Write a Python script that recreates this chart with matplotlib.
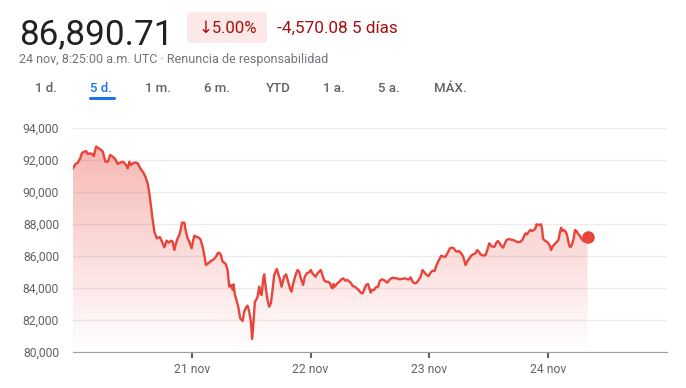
import matplotlib.pyplot as plt
from matplotlib.patches import FancyBboxPatch, Polygon
import numpy as np

# hours since 20 nov 00:00 UTC
hours = [0.0, 0.50, 0.97, 1.45, 1.85, 2.32, 2.66, 2.99, 3.46, 3.87, 4.20, 4.67, 5.21, 5.68,
         6.02, 6.55, 7.03, 7.50, 8.03, 8.57, 9.04, 9.51, 10.05, 10.59, 11.06, 11.40, 11.73,
         12.07, 12.40, 12.74, 13.08, 13.41, 13.75, 14.22, 14.62, 15.09, 15.43, 15.77, 16.10,
         16.44, 16.91, 17.31, 17.58, 17.98, 18.45, 18.93, 19.33, 19.80, 20.13, 20.47, 20.81,
         21.14, 21.48, 21.82, 22.02, 22.49, 22.82, 23.16, 23.50, 23.97, 24.30, 24.51,
         24.84, 25.31, 25.72, 26.19, 26.52, 26.86, 27.33, 27.87, 28.41, 28.88, 29.21, 29.55,
         29.89, 30.22, 30.56, 30.89, 31.23, 31.57, 31.90, 32.24, 32.44, 32.71, 33.11, 33.45,
         33.78, 34.25, 34.59, 34.93, 35.26, 35.60, 35.94, 36.20, 36.47, 36.74, 37.01, 37.28,
         37.62, 37.82, 38.09, 38.49, 38.63, 38.96, 39.30, 39.63, 39.97, 40.31, 40.64, 40.98,
         41.18, 41.45, 41.85, 42.12, 42.39, 42.66, 43.06, 43.47, 43.87, 44.14, 44.41, 44.68,
         45.08, 45.35, 45.68, 46.02, 46.49, 46.83, 47.23, 47.70,
         48.03, 48.37, 48.71, 49.04, 49.38, 49.72, 50.05, 50.39, 50.72, 51.06, 51.53, 51.93,
         52.20, 52.47, 52.61, 52.87, 53.14, 53.41, 53.82, 54.22, 54.62, 55.03, 55.43, 55.83,
         56.10, 56.51, 56.91, 57.31, 57.72, 58.12, 58.52, 58.79, 59.19, 59.60, 59.87, 60.14,
         60.40, 60.81, 61.21, 61.61, 62.02, 62.42, 62.83, 63.23, 63.50, 63.90, 64.30, 64.71,
         65.11, 65.51, 65.92, 66.32, 66.72, 67.13, 67.53, 67.93, 68.20, 68.61, 69.01, 69.41,
         69.82, 70.22, 70.62, 71.03, 71.43, 71.83, 72.24, 72.64,
         73.05, 73.45, 73.93, 74.40, 74.80, 75.27, 75.74, 76.14, 76.61, 76.95, 77.29, 77.62,
         77.96, 78.43, 78.83, 79.30, 79.64, 79.98, 80.45, 80.85, 81.32, 81.66, 81.99, 82.33,
         82.87, 83.34, 83.81, 84.08, 84.35, 84.68, 85.15, 85.56, 85.82, 86.23, 86.50, 86.90,
         87.17, 87.57, 88.04, 88.51, 88.92, 89.39, 89.86, 90.40, 90.80, 91.07, 91.41, 91.74,
         92.08, 92.41, 92.75, 93.09, 93.42, 93.62, 94.09, 94.56, 94.77, 94.97, 95.44, 95.91,
         96.31, 96.58, 96.85, 97.25, 97.66, 98.06, 98.33, 98.60, 98.87, 99.14, 99.54, 99.81,
         100.15, 100.35, 100.61, 100.88, 101.15, 101.42, 101.69, 101.96, 102.36, 102.77,
         103.17, 103.44, 103.71, 103.95]
prices = [91480, 91750, 91830, 92105, 92460, 92520, 92560, 92375, 92420, 92375, 92250, 92835,
          92730, 92625, 92520, 91895, 91895, 92310, 92210, 92040, 91750, 91835, 91895, 91750,
          91480, 91895, 91690, 91790, 91835, 91835, 91790, 91585, 91415, 91210, 90960, 90540,
          89920, 89085, 88250, 87520, 87105, 87170, 87170, 86900, 86540, 86960, 86835, 86960,
          86900, 86375, 86790, 87105, 87310, 87730, 88085, 88085, 87520, 87105, 86900, 86480,
          87000, 87270,
          87208, 87167, 87063, 86584, 86063, 85438, 85542, 85688, 85792, 85958, 86167, 86208,
          86063, 85646, 85583, 85479, 85125, 84083, 84188, 83875, 84230, 83563, 83146, 82730,
          82105, 81938, 82521, 82771, 82896, 82521, 81896, 80813, 81896, 83146, 83250, 83458,
          84083, 83667, 83563, 84708, 84854, 83979, 83250, 82833, 83042, 83875, 84813, 85063,
          85188, 84917, 84500, 84083, 84396, 84708, 84854, 84396, 83938, 83771, 84188, 84500,
          84917, 85125, 85021, 84604, 84188, 84708, 84917, 84979,
          85125, 84917, 84813, 84708, 84917, 85021, 85125, 84813, 84500, 84396, 84396, 84292,
          84042, 83979, 84250, 84083, 84188, 84292, 84396, 84542, 84604, 84458, 84500, 84396,
          84333, 84125, 84083, 83979, 83875, 83708, 83667, 83875, 84188, 84250, 83979, 83708,
          83875, 83875, 84042, 84083, 84458, 84542, 84500, 84396, 84333, 84500, 84604, 84646,
          84604, 84604, 84542, 84563, 84583, 84604, 84542, 84542, 84667, 84396, 84292, 84333,
          84500, 84708, 85125, 84958, 84813, 84750, 84958, 85083,
          85063, 85438, 85750, 86021, 85958, 85958, 86229, 86479, 86521, 86479, 86313, 86271,
          86313, 86167, 85958, 85438, 85646, 85813, 86021, 86104, 86167, 86375, 86271, 86104,
          86021, 86063, 86479, 86792, 86688, 86583, 86583, 86854, 86938, 86792, 86646, 86521,
          86729, 87000, 87063, 87021, 87000, 86938, 86854, 86896, 87021, 87208, 87417, 87354,
          87521, 87625, 87563, 87625, 87729, 87979, 87938, 87979, 87688, 87063, 86938, 86854,
          86646, 86375, 86583, 86729, 86854, 87000, 87417, 87771, 87563, 87625, 87521, 87313,
          86792, 86583, 86583, 86792, 87104, 87625, 87563, 87417, 87271, 87063, 86938, 86896,
          86938, 87200]

y_ticks = [80000, 82000, 84000, 86000, 88000, 90000, 92000, 94000]
x_ticks = [24, 48, 72, 96]
x_labels = ['21 nov', '22 nov', '23 nov', '24 nov']
tabs = ['1 d.', '5 d.', '1 m.', '6 m.', 'YTD', '1 a.', '5 a.', 'MÁX.']

W, H = 686, 388
RED = '#e9443a'
FONT = ['Roboto', 'DejaVu Sans']


def fx(px):
    return px / W


def fy(py):
    return 1 - py / H


def main():
    fig = plt.figure(figsize=(W / 100, H / 100), dpi=100)
    ax = fig.add_axes([fx(73), 36 / H, 594 / W, 224 / H])

    # header
    fig.text(fx(19), fy(44), '86,890.71', fontsize=25.3, color='#202124',
             family=FONT, va='baseline')
    badge = FancyBboxPatch((fx(187), fy(43)), fx(80), 31 / H,
                           boxstyle='round,pad=0,rounding_size=0.008',
                           transform=fig.transFigure, fc='#fce8e6', ec='none')
    fig.patches.append(badge)
    fig.text(fx(228), fy(28), '↓5.00%', fontsize=12, color='#a50e0e',
             family=FONT, ha='center', va='center')
    fig.text(fx(277), fy(28), '-4,570.08 5 días', fontsize=12.3, color='#a50e0e',
             family=FONT, va='center')
    fig.text(fx(19), fy(60), '24 nov, 8:25:00 a.m. UTC · Renuncia de responsabilidad',
             fontsize=9.0, color='#70757a', family=FONT, va='center')

    tab_x = [46, 101, 158, 217, 278, 334, 389, 450]
    for label, x in zip(tabs, tab_x):
        color = '#1a73e8' if label == '5 d.' else '#5f6368'
        fig.text(fx(x), fy(88), label, fontsize=9.5, color=color, family=FONT,
                 ha='center', va='center', weight='medium')
    fig.add_artist(plt.Line2D([fx(90), fx(114)], [fy(97.5), fy(97.5)],
                              transform=fig.transFigure, color='#1a73e8', lw=2.2,
                              solid_capstyle='round'))

    # gradient fill under the line
    t = np.array(hours)
    p = np.array(prices)
    verts = np.vstack([np.column_stack([t, p]), [[t[-1], 80000], [t[0], 80000]]])
    poly = Polygon(verts, closed=True, fc='none', ec='none')
    ax.add_patch(poly)
    grad = np.zeros((100, 2, 4))
    grad[..., 0] = 0.914
    grad[..., 1] = 0.267
    grad[..., 2] = 0.227
    grad[..., 3] = np.linspace(0.38, 0.0, 100)[:, None]
    top = max(prices)
    img = ax.imshow(grad, extent=[t[0], t[-1], 80000, top], origin='upper',
                    aspect='auto', zorder=1)
    img.set_clip_path(poly)

    ax.plot(t, p, color=RED, lw=1.7, zorder=3)
    ax.plot(t[-1], p[-1], 'o', color=RED, ms=8, zorder=4)

    ax.set_xlim(0, 120)
    ax.set_ylim(80000, 94000)
    ax.set_yticks(y_ticks)
    ax.set_yticklabels([f'{v:,}' for v in y_ticks])
    ax.set_xticks(x_ticks)
    ax.set_xticklabels(x_labels)
    ax.grid(axis='y', color='#ececec', lw=1)
    ax.set_axisbelow(True)
    for s in ['top', 'right', 'left']:
        ax.spines[s].set_visible(False)
    ax.spines['bottom'].set_color('#9aa0a6')
    ax.tick_params(axis='y', length=0, pad=10, labelsize=8.7, labelcolor='#5f6368')
    ax.tick_params(axis='x', length=4, width=1.5, color='#5f6368', pad=4,
                   labelsize=8.7, labelcolor='#5f6368')
    for lab in ax.get_xticklabels() + ax.get_yticklabels():
        lab.set_family(FONT)

    fig.savefig('out.png', dpi=100)
    plt.close()


if __name__ == '__main__':
    main()
